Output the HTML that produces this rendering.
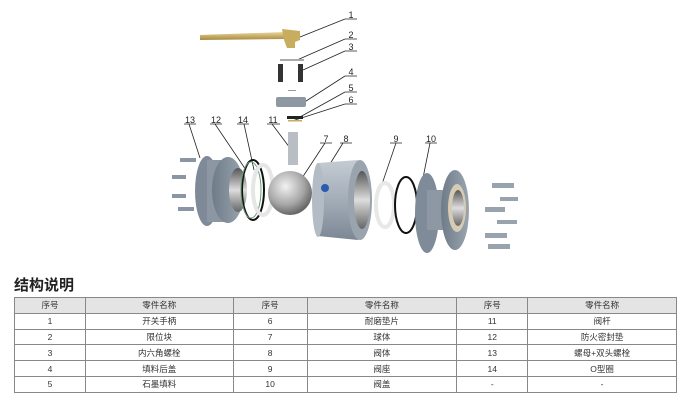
<!DOCTYPE html>
<html><head><meta charset="utf-8"><style>
body{margin:0;background:#fff;width:691px;height:409px;overflow:hidden;font-family:"Liberation Sans","Noto Sans CJK SC",sans-serif}
svg{position:absolute;left:0;top:0}
.t{position:absolute;left:14px;top:274px;font-size:15px;font-weight:bold;color:#222}
table{position:absolute;left:14px;top:297px;border-collapse:collapse;width:663px;font-size:8.5px;color:#333}
td{border:1px solid #888;height:14.8px;padding:0;text-align:center}
tr:first-child td{background:#e4e4e4}
</style></head><body>
<svg width="691" height="270" viewBox="0 0 691 270">
<defs>
<linearGradient id="m" x1="0" y1="0" x2="0" y2="1"><stop offset="0" stop-color="#c4cbd3"/><stop offset=".5" stop-color="#a3adb8"/><stop offset="1" stop-color="#7c8794"/></linearGradient>
<linearGradient id="f" x1="0" y1="0" x2="1" y2="0"><stop offset="0" stop-color="#6f7b88"/><stop offset="1" stop-color="#9aa5b1"/></linearGradient>
<radialGradient id="b" cx=".4" cy=".35" r=".7"><stop offset="0" stop-color="#f2f2f2"/><stop offset=".6" stop-color="#a6a6a6"/><stop offset="1" stop-color="#5a5a5a"/></radialGradient>
<linearGradient id="br" x1="0" y1="0" x2="0" y2="1"><stop offset="0" stop-color="#e8d59a"/><stop offset="1" stop-color="#a8893e"/></linearGradient>
<linearGradient id="bo" x1="0" y1="0" x2="0" y2="1"><stop offset="0" stop-color="#555"/><stop offset=".5" stop-color="#ddd"/><stop offset="1" stop-color="#666"/></linearGradient>
</defs>
<g stroke="#222" stroke-width="0.8" fill="none">
<path d="M345 19H357M345 19L300 37"/><path d="M345 39H357M345 39L297 60"/><path d="M345 51H357M345 51L303 70"/>
<path d="M345 76H357M345 76L303 103"/><path d="M345 92H357M345 92L300 117"/><path d="M345 104H357M345 104L292 121"/>
<path d="M184 124H196M189 124L200 158"/><path d="M210 124H222M215 124L246 170"/><path d="M237 124H249M244 124L254 170"/>
<path d="M267 124H280M272 124L290 148"/><path d="M320 143H332M325 143L302 178"/><path d="M340 143H352M343 143L320 180"/>
<path d="M390 143H402M396 143L380 190"/><path d="M425 143H437M430 143L421 188"/>
</g>
<g font-size="9" fill="#222" text-anchor="middle">
<text x="351" y="18">1</text><text x="351" y="38">2</text><text x="351" y="50">3</text><text x="351" y="75">4</text><text x="351" y="91">5</text><text x="351" y="103">6</text>
<text x="190" y="123">13</text><text x="216" y="123">12</text><text x="243" y="123">14</text><text x="273" y="123">11</text><text x="326" y="142">7</text><text x="346" y="142">8</text><text x="396" y="142">9</text><text x="431" y="142">10</text>
</g>
<!-- handle -->
<path d="M200 35L285 32L285 39L200 40Z" fill="url(#br)"/>
<path d="M282 29L300 31L300 40L295 42L295 48L287 48L284 40Z" fill="#c9ad5e"/>
<rect x="280" y="59" width="24" height="2" fill="#aaa"/>
<rect x="278" y="64" width="5" height="18" fill="#333"/><rect x="298" y="64" width="5" height="18" fill="#333"/>
<rect x="288" y="90" width="8" height="1" fill="#999"/>
<rect x="276" y="97" width="30" height="10" rx="2" fill="#8e98a3"/>
<rect x="287" y="116" width="16" height="3" fill="#222"/><rect x="288" y="120" width="14" height="1.5" fill="#c9ad5e"/>
<rect x="288" y="132" width="10" height="33" fill="#b8bec4"/>
<!-- left bolts -->
<g fill="#8a96a3"><rect x="180" y="158" width="16" height="4"/><rect x="172" y="175" width="14" height="4"/><rect x="172" y="194" width="14" height="4"/><rect x="178" y="207" width="16" height="4"/></g>
<!-- left flange -->
<ellipse cx="207" cy="191" rx="12" ry="35" fill="#7e8a97"/>
<rect x="207" y="160" width="20" height="62" fill="#8c97a3"/>
<ellipse cx="228" cy="190" rx="16" ry="33" fill="url(#f)"/>
<ellipse cx="238" cy="190" rx="9" ry="22" fill="url(#bo)"/>
<ellipse cx="253" cy="190" rx="11" ry="30" fill="none" stroke="#111" stroke-width="2"/>
<ellipse cx="251" cy="190" rx="10" ry="28" fill="none" stroke="#6a9a7a" stroke-width="1"/>
<ellipse cx="263" cy="190" rx="10" ry="25" fill="none" stroke="#e6e6e6" stroke-width="4"/>
<!-- ball -->
<circle cx="290" cy="193" r="22" fill="url(#b)"/>
<!-- body -->
<path d="M318 163L358 160L358 240L318 236Z" fill="url(#m)"/>
<ellipse cx="318" cy="200" rx="6" ry="37" fill="#b3bcc5"/>
<ellipse cx="360" cy="200" rx="12" ry="40" fill="#9aa4ae"/>
<ellipse cx="362" cy="200" rx="8" ry="29" fill="url(#bo)"/>
<circle cx="325" cy="188" r="4" fill="#2a5bb0"/>
<!-- seat and o-ring -->
<ellipse cx="385" cy="205" rx="9" ry="22" fill="none" stroke="#e8e8e8" stroke-width="4"/>
<ellipse cx="406" cy="205" rx="11" ry="28" fill="none" stroke="#111" stroke-width="2"/>
<!-- right flange -->
<ellipse cx="427" cy="213" rx="12" ry="40" fill="#7f8b98"/>
<rect x="427" y="190" width="26" height="40" fill="#8d98a4"/>
<ellipse cx="455" cy="210" rx="14" ry="40" fill="url(#f)"/>
<ellipse cx="457" cy="208" rx="9" ry="24" fill="#d6ccb4"/>
<ellipse cx="458" cy="208" rx="6" ry="18" fill="url(#bo)"/>
<!-- right bolts -->
<g fill="#98a3ae"><rect x="492" y="183" width="22" height="5"/><rect x="500" y="197" width="18" height="4"/><rect x="485" y="207" width="20" height="5"/><rect x="497" y="220" width="20" height="4"/><rect x="485" y="233" width="22" height="5"/><rect x="488" y="244" width="22" height="5"/></g>
</svg>
<div class="t">结构说明</div>
<table>
<colgroup><col style="width:71px"><col style="width:148px"><col style="width:74px"><col style="width:150px"><col style="width:71px"><col style="width:149px"></colgroup>
<tr><td>序号</td><td>零件名称</td><td>序号</td><td>零件名称</td><td>序号</td><td>零件名称</td></tr>
<tr><td>1</td><td>开关手柄</td><td>6</td><td>耐磨垫片</td><td>11</td><td>阀杆</td></tr>
<tr><td>2</td><td>限位块</td><td>7</td><td>球体</td><td>12</td><td>防火密封垫</td></tr>
<tr><td>3</td><td>内六角螺栓</td><td>8</td><td>阀体</td><td>13</td><td>螺母+双头螺栓</td></tr>
<tr><td>4</td><td>填料后盖</td><td>9</td><td>阀座</td><td>14</td><td>O型圈</td></tr>
<tr><td>5</td><td>石墨填料</td><td>10</td><td>阀盖</td><td>-</td><td>-</td></tr>
</table>
</body></html>
